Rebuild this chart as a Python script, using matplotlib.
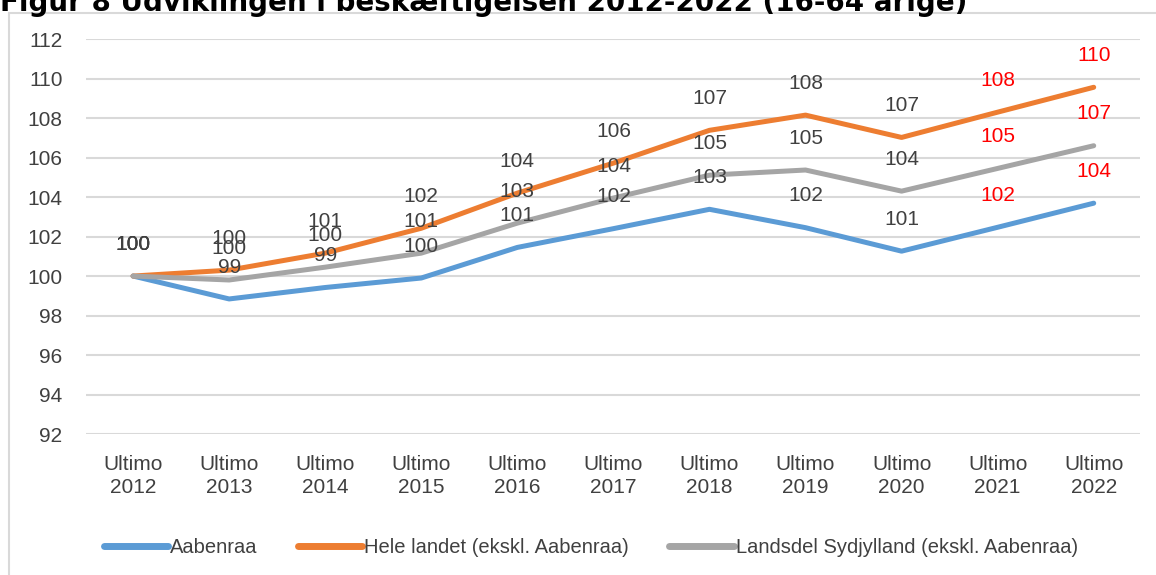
"""Figur 8: Udviklingen i beskæftigelsen 2012-2022 (indeks, 2012 = 100)."""

import matplotlib
matplotlib.use("Agg")
import matplotlib.pyplot as plt
from matplotlib.patches import Rectangle

plt.rcParams["font.family"] = ["Liberation Sans", "DejaVu Sans"]

# data
aar = ["2012", "2013", "2014", "2015", "2016", "2017",
       "2018", "2019", "2020", "2021", "2022"]
aabenraa = [100.0, 98.84, 99.42, 99.9, 101.45, 102.4,
            103.38, 102.45, 101.26, 102.47, 103.69]
hele_landet = [100.0, 100.3, 101.16, 102.42, 104.2, 105.72,
               107.38, 108.15, 107.02, 108.3, 109.56]
sydjylland = [100.0, 99.8, 100.45, 101.16, 102.68, 103.95,
              105.11, 105.37, 104.3, 105.45, 106.6]

serier = [
    ("Aabenraa", aabenraa, "#5B9BD5"),
    ("Hele landet (ekskl. Aabenraa)", hele_landet, "#ED7D31"),
    ("Landsdel Sydjylland (ekskl. Aabenraa)", sydjylland, "#A5A5A5"),
]
x_labels = ["Ultimo\n" + a for a in aar]
tekst_farve = "#404040"


def main() -> None:
    fig = plt.figure(figsize=(11.56, 5.75), dpi=100)
    ax = fig.add_axes([0.0744, 0.2452, 0.9116, 0.6868])

    x = list(range(len(aar)))
    for navn, vaerdier, farve in serier:
        ax.plot(x, vaerdier, color=farve, lw=3.6, label=navn,
                solid_capstyle="round", solid_joinstyle="round", zorder=3)
        for i, v in enumerate(vaerdier):
            # de sidste to år er markeret med rødt
            c = "#FF0000" if i >= len(aar) - 2 else tekst_farve
            ax.annotate(f"{v:.0f}", (i, v), xytext=(0, 23),
                        textcoords="offset points", ha="center", va="center",
                        fontsize=15, color=c, zorder=4)

    ax.set_xlim(-0.49, 10.48)
    ax.set_ylim(92, 112)
    ax.set_yticks(range(92, 113, 2))
    ax.set_xticks(x)
    ax.set_xticklabels(x_labels, linespacing=1.3)
    ax.tick_params(length=0, labelsize=15, labelcolor=tekst_farve)
    ax.tick_params(axis="x", pad=15)
    ax.tick_params(axis="y", pad=17)
    ax.grid(axis="y", color="#D9D9D9", lw=1.5)
    ax.set_axisbelow(True)
    for s in ax.spines.values():
        s.set_visible(False)

    leg = fig.legend(loc="center", bbox_to_anchor=(0.511, 0.047), ncol=3,
                     frameon=False, fontsize=14.5, handlelength=3.2,
                     handletextpad=0.1, columnspacing=2.0)
    for t in leg.get_texts():
        t.set_color(tekst_farve)
    for h in leg.get_lines():
        h.set_linewidth(5)
        h.set_solid_capstyle("round")

    # ramme rundt om diagrammet
    fig.patches.append(Rectangle((9 / 1156, -0.05), 1.2, 1 - 13 / 575 + 0.05,
                                 transform=fig.transFigure, fill=False,
                                 edgecolor="#D9D9D9", lw=1.5))

    # overskriften er beskåret i toppen
    fig.text(0.0, 1 - 11 / 575, "Figur 8 Udviklingen i beskæftigelsen 2012-2022 (16-64 årige)",
             fontsize=20, fontweight="bold", family="DejaVu Sans",
             va="baseline", ha="left", color="black")

    fig.savefig("out.png", dpi=100)


if __name__ == "__main__":
    main()
